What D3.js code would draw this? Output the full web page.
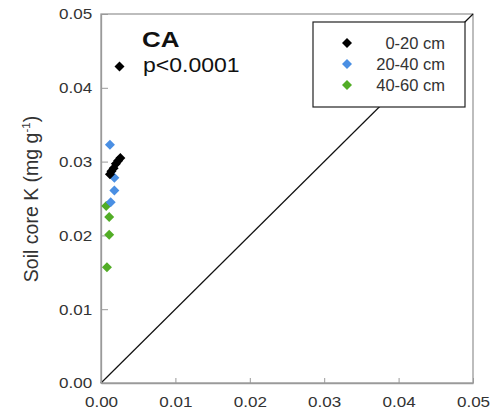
<!DOCTYPE html>
<html><head><meta charset="utf-8">
<script src="https://cdn.jsdelivr.net/npm/d3@7"></script>
<style>body{margin:0;background:#fff}svg{display:block}text{font-family:Arial,"Liberation Sans",sans-serif}</style>
</head><body><svg id="c" width="493" height="414"></svg>
<script>
const ticks = [0, 0.01, 0.02, 0.03, 0.04, 0.05];
const seriesNames = ["0-20 cm", "20-40 cm", "40-60 cm"];
const seriesColors = ["#000000", "#4a8fe3", "#52ad26"];
const x0_20 = [0.0026, 0.0023, 0.0020, 0.0017, 0.0014, 0.0012];
const y0_20 = [0.0305, 0.0301, 0.0297, 0.0291, 0.0287, 0.0283];
const x20_40 = [0.0012, 0.0018, 0.0018, 0.0013];
const y20_40 = [0.0323, 0.0278, 0.0261, 0.0245];
const x40_60 = [0.0007, 0.0011, 0.0011, 0.0008];
const y40_60 = [0.0240, 0.0225, 0.0201, 0.0157];

const svg = d3.select("#c");
const L = 101, R = 473, T = 14, B = 383;
const x = d3.scaleLinear().domain([0, 0.05]).range([L, R]);
const y = d3.scaleLinear().domain([0, 0.05]).range([B, T]);
const grey = "#9a9a9a";

// frame
svg.append("rect").attr("x", L).attr("y", T).attr("width", R - L).attr("height", B - T)
  .attr("fill", "none").attr("stroke", grey).attr("stroke-width", 1.3);

// 1:1 line
svg.append("line").attr("x1", x(0)).attr("y1", y(0)).attr("x2", x(0.05)).attr("y2", y(0.05))
  .attr("stroke", "#111").attr("stroke-width", 1.2);

// axes
const fmt = d3.format(".2f");
const xa = svg.append("g").attr("transform", `translate(0,${B})`)
  .call(d3.axisBottom(x).tickValues(ticks).tickFormat(fmt).tickSizeInner(-5).tickSizeOuter(0).tickPadding(13));
const ya = svg.append("g").attr("transform", `translate(${L},0)`)
  .call(d3.axisLeft(y).tickValues(ticks).tickFormat(fmt).tickSizeInner(-7).tickSizeOuter(0).tickPadding(8));
[xa, ya].forEach(a => {
  a.select(".domain").attr("stroke", grey).attr("stroke-width", 1.3);
  a.selectAll(".tick line").attr("stroke", grey);
  a.selectAll(".tick text").attr("fill", "#333").style("font-size", "15.5px").attr("transform", "scale(1.1,1)");
});

// y label
const yl = svg.append("text").attr("transform", "translate(38,199) rotate(-90)")
  .attr("text-anchor", "middle").attr("fill", "#333").style("font-size", "19.5px");
yl.append("tspan").text("Soil core K (mg g");
yl.append("tspan").attr("dy", -8).style("font-size", "11.5px").text("-1");
yl.append("tspan").attr("dy", 8).text(")");

const sq = d3.symbol().type(d3.symbolSquare).size(50);
function draw(xs, ys, col) {
  svg.append("g").selectAll("path").data(xs.map((v, i) => [v, ys[i]])).join("path")
    .attr("d", sq).attr("fill", col)
    .attr("transform", d => `translate(${x(d[0])},${y(d[1])}) rotate(45)`);
}
draw(x40_60, y40_60, seriesColors[2]);
draw(x20_40, y20_40, seriesColors[1]);
draw(x0_20, y0_20, seriesColors[0]);

// annotation
svg.append("text").attr("transform", "translate(142,47) scale(1.18,1)").attr("font-weight", "bold").style("font-size", "22px").attr("fill", "#111").text("CA");
svg.append("text").attr("transform", "translate(143,72) scale(1.18,1)").style("font-size", "19.5px").attr("fill", "#111").text("p<0.0001");
svg.append("path").attr("d", sq).attr("fill", "#000").attr("transform", `translate(119.5,66.5) rotate(45)`);

// legend
const lg = svg.append("g");
lg.append("rect").attr("x", 313).attr("y", 22).attr("width", 152).attr("height", 85).attr("fill", "#fff").attr("stroke", "#222").attr("stroke-width", 1.2);
seriesNames.forEach((n, i) => {
  const cy = 43 + i * 21;
  lg.append("path").attr("d", sq).attr("fill", seriesColors[i]).attr("transform", `translate(347,${cy}) rotate(45)`);
  lg.append("text").attr("x", 445).attr("y", cy + 6).attr("text-anchor", "end").style("font-size", "16.5px").attr("fill", "#333").text(n);
});
</script></body></html>
